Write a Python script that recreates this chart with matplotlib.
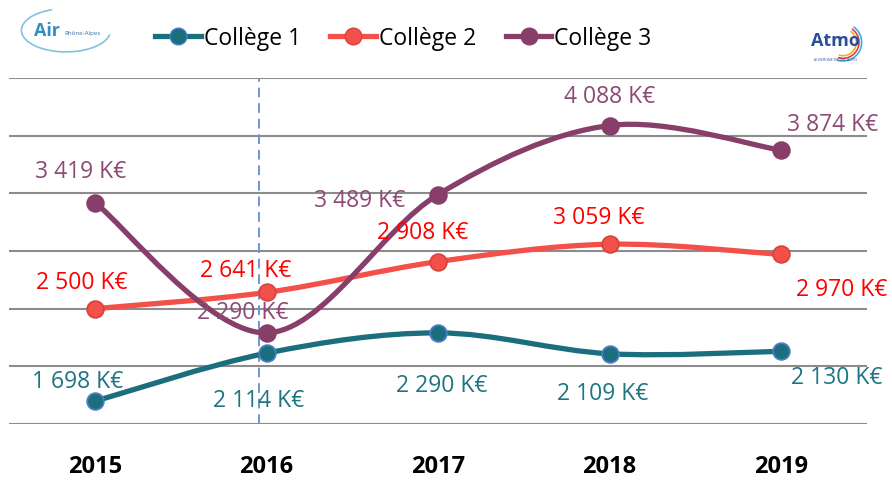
import numpy as np
import matplotlib
matplotlib.use('Agg')
import matplotlib.pyplot as plt
from matplotlib.path import Path
from matplotlib.patches import PathPatch, Arc
from matplotlib.lines import Line2D

plt.rcParams['font.family'] = ['Open Sans', 'DejaVu Sans']

years = ['2015', '2016', '2017', '2018', '2019']
college1 = [1698, 2114, 2290, 2109, 2130]
college2 = [2500, 2641, 2908, 3059, 2970]
college3 = [3419, 2290, 3489, 4088, 3874]
series_names = ['Collège 1', 'Collège 2', 'Collège 3']

line_colors = ['#1B6F7D', '#F4504A', '#873F69']
edge_colors = ['#4A7CC9', '#D8433E', '#873F69']
label_colors = ['#1F7582', '#FF0000', '#8C4A75']

# label offsets (pixels) relative to each marker
label_offsets = [
    [(-17, 20), (-8, -47), (4, -52), (-7, -39), (56, -26)],
    [(-13, 27), (-21, 22), (-15, 30), (-11, 27), (61, -35)],
    [(-14, 32), (-24, 21), (-78, -5), (0, 30), (52, 26)],
]


def smooth_path(x, y):
    # catmull-rom style bezier through the points (like excel smoothed lines)
    pts = np.column_stack([x, y]).astype(float)
    n = len(pts)
    verts = [pts[0]]
    codes = [Path.MOVETO]
    for i in range(n - 1):
        p0 = pts[i - 1] if i > 0 else pts[i]
        p1 = pts[i]
        p2 = pts[i + 1]
        p3 = pts[i + 2] if i + 2 < n else pts[i + 1]
        c1 = p1 + (p2 - p0) / 6.0
        c2 = p2 - (p3 - p1) / 6.0
        verts += [c1, c2, p2]
        codes += [Path.CURVE4] * 3
    return Path(verts, codes)


fig = plt.figure(figsize=(8.92, 4.81), dpi=100)
ax = fig.add_axes([0.0104, 0.1164, 0.9613, 0.7194])
xs = np.arange(len(years))
ax.set_xlim(-0.5, 4.5)
ax.set_ylim(1500, 4500)

for spine in ax.spines.values():
    spine.set_visible(False)
ax.set_yticks(np.arange(1500, 4501, 500))
ax.yaxis.grid(True, color='#8C8C8C', linewidth=1.5)
ax.set_axisbelow(True)
ax.tick_params(axis='y', left=False, labelleft=False)
ax.tick_params(axis='x', bottom=False, pad=18)
ax.set_xticks(xs)
ax.set_xticklabels(years, fontsize=17, fontweight='bold')

ax.plot([0.956, 0.956], [1500, 4500], color='#6A96D6', linewidth=1.4,
        linestyle=(0, (5, 3)), zorder=1)

all_series = [college1, college2, college3]
for k, vals in enumerate(all_series):
    patch = PathPatch(smooth_path(xs, vals), facecolor='none',
                      edgecolor=line_colors[k], linewidth=3.8,
                      capstyle='round', zorder=3 + k)
    ax.add_patch(patch)
    ax.plot(xs, vals, linestyle='none', marker='o', markersize=12,
            markerfacecolor=line_colors[k], markeredgecolor=edge_colors[k],
            markeredgewidth=1.3, zorder=4 + k)
    for i, v in enumerate(vals):
        txt = '{:,}'.format(v).replace(',', ' ') + ' K€'
        ax.annotate(txt, (xs[i], v), xytext=label_offsets[k][i],
                    textcoords='offset pixels', ha='center', va='center',
                    fontsize=16.5, color=label_colors[k], zorder=10,
                    annotation_clip=False)

handles = [Line2D([0], [0], color=line_colors[k], linewidth=3.8, marker='o',
                  markersize=12, markerfacecolor=line_colors[k],
                  markeredgecolor=edge_colors[k]) for k in range(3)]
fig.legend(handles, series_names, loc='center', bbox_to_anchor=(0.452, 0.918),
           ncol=3, frameon=False, fontsize=16.5, handlelength=2.0,
           handletextpad=0.1, columnspacing=1.3)

# logos
fig.text(0.053, 0.935, 'Air', fontsize=13, fontweight='bold', color='#2E8FC0',
         ha='center', va='center')
fig.text(0.092, 0.93, 'Rhône-Alpes', fontsize=4.5, color='#3A6EA5',
         ha='center', va='center')
fig.add_artist(Arc((0.074, 0.935), 0.1, 0.09, theta1=110, theta2=350,
                   color='#7FC3E0', linewidth=1.2, transform=fig.transFigure))
fig.text(0.937, 0.915, 'Atmo', fontsize=13, fontweight='bold', color='#2A4E9B',
         ha='center', va='center')
fig.text(0.937, 0.875, 'AUVERGNE RHÔNE-ALPES', fontsize=2.5, color='#2A4E9B',
         ha='center', va='center')
for r, col in zip([0.042, 0.036, 0.030], ['#3AAEE0', '#E83E3E', '#F2B01E']):
    fig.add_artist(Arc((0.945, 0.91), r, r * 892 / 481 * 1.0, theta1=-100,
                       theta2=70, color=col, linewidth=1.2,
                       transform=fig.transFigure))

fig.savefig('out.png', dpi=100)
